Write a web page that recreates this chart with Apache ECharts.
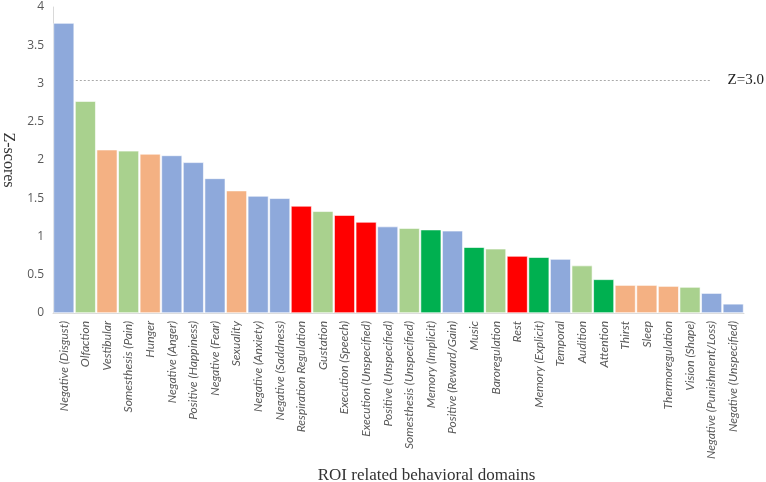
<!DOCTYPE html>
<html>
<head>
<meta charset="utf-8">
<script src="https://cdn.jsdelivr.net/npm/echarts@6/dist/echarts.min.js"></script>
<style>html,body{margin:0;padding:0;background:#fff}#c{width:766px;height:482px}</style>
</head>
<body>
<div id="c"></div>
<script>
const categories = ["Negative (Disgust)","Olfaction","Vestibular","Somesthesis (Pain)","Hunger","Negative (Anger)","Positive (Happiness)","Negative (Fear)","Sexuality","Negative (Anxiety)","Negative (Saddness)","Respiration Regulation","Gustation","Execution (Speech)","Execution (Unspecified)","Positive (Unspecified)","Somesthesis (Unspecified)","Memory (Implicit)","Positive (Reward/Gain)","Music","Baroregulation","Rest","Memory (Explicit)","Temporal","Audition","Attention","Thirst","Sleep","Thermoregulation","Vision (Shape)","Negative (Punishment/Loss)","Negative (Unspecified)"];
const zScores = [3.79,2.77,2.135,2.12,2.08,2.06,1.97,1.76,1.60,1.53,1.50,1.40,1.33,1.28,1.19,1.13,1.11,1.09,1.075,0.86,0.84,0.745,0.73,0.705,0.62,0.44,0.365,0.365,0.352,0.34,0.26,0.12];
const groups = ["blue","lgreen","orange","lgreen","orange","blue","blue","blue","orange","blue","blue","red","lgreen","red","red","blue","lgreen","green","blue","green","lgreen","red","green","blue","lgreen","green","orange","orange","orange","lgreen","blue","blue"];
const groupColors = {blue:"#8EA9DB", lgreen:"#A9D18E", orange:"#F4B183", red:"#FF0000", green:"#00B050"};
const threshold = 3.04;
const thresholdLabel = "Z=3.0";

const chart = echarts.init(document.getElementById('c'));
chart.setOption({
  animation:false,
  grid:{left:53,right:22,top:7,bottom:169,containLabel:false,outerBoundsMode:'none'},
  xAxis:{
    type:'category', data:categories,
    axisLine:{show:true,lineStyle:{color:'#D9D9D9'}},
    axisTick:{show:false},
    axisLabel:{rotate:90,interval:0,fontFamily:'Lato',fontStyle:'italic',fontSize:12,color:'#5a5a5a',margin:8},
    name:'ROI related behavioral domains', nameLocation:'middle', nameGap:148,
    nameTextStyle:{fontFamily:'Liberation Serif',fontSize:17,color:'#333',padding:[0,0,0,56]}
  },
  yAxis:{
    type:'value', min:0, max:4, interval:0.5,
    axisLine:{show:true,lineStyle:{color:'#D9D9D9'}},
    axisTick:{show:false},
    splitLine:{show:false},
    axisLabel:{fontFamily:'Open Sans',fontSize:12,color:'#595959',margin:9},
    name:'Z-scores', nameLocation:'middle', nameGap:35, nameRotate:-90,
    nameTextStyle:{fontFamily:'Liberation Serif',fontSize:16,color:'#333'}
  },
  series:[{
    type:'bar',
    z:2,
    barCategoryGap:'4%',
    data:zScores.map((v,i)=>({value:v,itemStyle:{color:groupColors[groups[i]]}})),
    itemStyle:{borderColor:'#fff',borderWidth:0.6},
    markLine:{
      z:1,
      silent:true, symbol:'none',
      lineStyle:{type:[2,2],color:'#AAAAAA',width:1},
      label:{show:true,position:'end',distance:16,formatter:thresholdLabel,fontFamily:'Liberation Serif',fontSize:15,color:'#222'},
      data:[[{coord:[0,threshold]},{coord:[30,threshold]}]]
    }
  }]
});
</script>
</body>
</html>
